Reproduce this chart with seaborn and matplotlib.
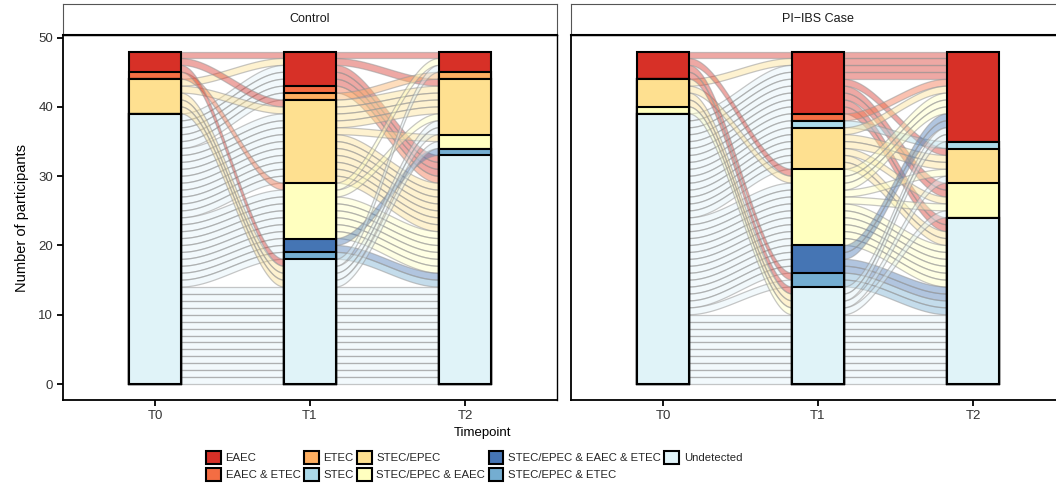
import matplotlib
matplotlib.use("Agg")
import matplotlib.pyplot as plt
from matplotlib import font_manager
from matplotlib.patches import Patch
from matplotlib.colors import to_rgba
import numpy as np
import pandas as pd
import seaborn as sns

# Pathogen categories (stacking order: first level on top) and their fills
STRATA = ["EAEC", "EAEC & ETEC", "ETEC", "STEC", "STEC/EPEC",
          "STEC/EPEC & EAEC", "STEC/EPEC & EAEC & ETEC", "STEC/EPEC & ETEC",
          "Undetected"]
PALETTE = ["#D73027", "#F46D43", "#FDAE61", "#ABD9E9", "#FEE090",
           "#FFFFBF", "#4575B4", "#74ADD1", "#E0F3F8"]
TIMEPOINTS = ["T0", "T1", "T2"]
GROUPS = ["Control", "PI\u2212IBS Case"]

# Short codes used in the participant pathways below
CODES = {"E": "EAEC", "EE": "EAEC & ETEC", "T": "ETEC", "S": "STEC",
         "P": "STEC/EPEC", "PE": "STEC/EPEC & EAEC",
         "PEE": "STEC/EPEC & EAEC & ETEC", "PT": "STEC/EPEC & ETEC",
         "U": "Undetected"}

# Pathways T0>T1>T2 and number of participants following each
control_paths = ["E>E>E", "P>E>P", "U>E>U", "U>EE>U", "U>T>T", "E>P>U",
                 "P>P>P", "U>P>P", "U>P>PE", "U>P>U", "EE>PE>U", "U>PE>E",
                 "U>PE>P", "U>PE>U", "U>PEE>PT", "U>PEE>U", "U>PT>U",
                 "U>U>U", "U>U>E", "U>U>P", "E>U>U", "P>U>U", "P>U>P",
                 "P>U>PE"]
control_counts = [1, 1, 3, 1, 1, 1, 1, 3, 1, 6, 1, 1, 1, 5, 1, 1, 1,
                  12, 1, 1, 1, 1, 1, 1]

case_paths = ["E>E>E", "P>E>E", "U>E>E", "U>E>P", "U>E>PE", "U>E>U",
              "U>EE>E", "U>S>S", "U>P>E", "U>P>P", "U>P>PE", "U>P>U",
              "E>PE>U", "P>PE>P", "U>PE>E", "U>PE>PE", "U>PE>U",
              "U>PEE>E", "U>PEE>U", "E>PT>U", "U>PT>U", "U>U>U", "U>U>E",
              "U>U>P", "E>U>U", "P>U>U", "P>U>E", "PE>U>PE"]
case_counts = [1, 1, 2, 1, 2, 2, 1, 1, 1, 2, 1, 2, 1, 1, 3, 1, 5, 2, 2, 1, 1,
               8, 1, 1, 1, 1, 1, 1]

GROUP_DATA = {GROUPS[0]: (control_paths, control_counts),
              GROUPS[1]: (case_paths, case_counts)}

W_PX, H_PX = 1056, 486
BAR_W = 1 / 3
RANK = {s: i for i, s in enumerate(STRATA)}
COLOR = dict(zip(STRATA, PALETTE))

sns.set_theme(style="white")
plt.rcParams["font.family"] = ["Liberation Sans", "DejaVu Sans"]

# condensed face for the legend and x title when it is available
_installed = {f.name for f in font_manager.fontManager.ttflist}
if "Liberation Sans Narrow" in _installed:
    NARROW = ["Liberation Sans Narrow", "DejaVu Sans"]
    NARROW_SIZE = 9.3
else:
    NARROW = ["Liberation Sans", "DejaVu Sans"]
    NARROW_SIZE = 8.2


def expand(paths, counts):
    states = []
    for p, c in zip(paths, counts):
        states += [[CODES[k] for k in p.split(">")]] * c
    return states


def frac(x0, y0, x1, y1):
    return [x0 / W_PX, 1 - y1 / H_PX, (x1 - x0) / W_PX, (y1 - y0) / H_PX]


def draw_flows(ax, states):
    n = len(states)
    t = np.linspace(0, 1, 80)
    s = t * t * (3 - 2 * t)
    for a in range(len(TIMEPOINTS) - 1):
        b = a + 1
        src = [st[a] for st in states]
        dst = [st[b] for st in states]
        out_order = sorted(range(n), key=lambda i: (RANK[src[i]], RANK[dst[i]], i))
        in_order = sorted(range(n), key=lambda i: (RANK[dst[i]], RANK[src[i]], i))
        y0 = np.empty(n)
        y1 = np.empty(n)
        for k, i in enumerate(out_order):
            y0[i] = n - 1 - k
        for k, i in enumerate(in_order):
            y1[i] = n - 1 - k
        xa, xb = a + BAR_W / 2, b - BAR_W / 2
        x = xa + (xb - xa) * t
        for i in range(n):
            low = y0[i] + (y1[i] - y0[i]) * s
            xs = np.concatenate([x, x[::-1]])
            ys = np.concatenate([low + 1, low[::-1]])
            ax.fill(xs, ys, facecolor=to_rgba(COLOR[src[i]], 0.42),
                    edgecolor=(0.6, 0.6, 0.6, 0.55), linewidth=0.9, zorder=1)


def draw_strata(ax, states):
    rows = []
    for ti, tp in enumerate(TIMEPOINTS):
        col = [st[ti] for st in states]
        counts = [col.count(s) for s in STRATA]
        for k, s in enumerate(STRATA):
            rows.append({"timepoint": tp, "stratum": s,
                         "top": sum(counts[k:])})
    df = pd.DataFrame(rows)
    # taller cumulative bars first, each lower stratum painted over them
    for s in STRATA:
        sub = df[df["stratum"] == s]
        sns.barplot(data=sub, x="timepoint", y="top", order=TIMEPOINTS,
                    color=COLOR[s], saturation=1, width=BAR_W,
                    edgecolor="black", linewidth=1.5, errorbar=None,
                    ax=ax, zorder=3)


fig = plt.figure(figsize=(W_PX / 100, H_PX / 100), dpi=100)

panels = [(63, 557), (571, 1065)]
for gi, (grp, (x0, x1)) in enumerate(zip(GROUPS, panels)):
    ax = fig.add_axes(frac(x0, 35, x1, 400))
    states = expand(*GROUP_DATA[grp])
    draw_flows(ax, states)
    draw_strata(ax, states)

    ax.set_xlim(-0.594, 2.594)
    ax.set_ylim(-2.31, 50.39)
    ax.set_xlabel("")
    ax.set_ylabel("")
    ax.set_xticks(range(len(TIMEPOINTS)))
    ax.set_xticklabels(TIMEPOINTS, fontsize=9.5, color="#333333")
    ax.tick_params(axis="x", length=4, width=1.3, color="black", pad=3,
                   bottom=True)
    if gi == 0:
        ax.set_yticks([0, 10, 20, 30, 40, 50])
        ax.set_yticklabels(["0", "10", "20", "30", "40", "50"],
                           fontsize=9.5, color="#333333")
        ax.tick_params(axis="y", length=4, width=1.3, color="black", pad=3,
                       left=True)
    else:
        ax.set_yticks([])
    for side, sp in ax.spines.items():
        sp.set_visible(True)
        sp.set_color("black")
        sp.set_linewidth(1.3 if side in ("left", "bottom") else 1.0)
    ax.set_facecolor("white")

    strip = fig.add_axes(frac(x0, 4, x1, 35))
    strip.set_xticks([])
    strip.set_yticks([])
    strip.set_facecolor("white")
    for side, sp in strip.spines.items():
        sp.set_color("#555555")
        sp.set_linewidth(0.8)
    strip.spines["bottom"].set_color("black")
    strip.spines["bottom"].set_linewidth(1.5)
    strip.text(0.5, 0.5, grp, transform=strip.transAxes, ha="center",
               va="center", fontsize=9, color="#1a1a1a")

fig.text(22 / W_PX, 1 - 218 / H_PX, "Number of participants", rotation=90,
         ha="center", va="center", fontsize=10.5, color="black")
fig.text(483 / W_PX, 1 - 433 / H_PX, "Timepoint", ha="center", va="center",
         fontsize=NARROW_SIZE + 1.3, family=NARROW, color="black")

handles = [Patch(facecolor=c, edgecolor="black", linewidth=1.5)
           for c in PALETTE]
fig.legend(handles, STRATA, loc="center", bbox_to_anchor=(0.449, 0.041),
           ncol=5, frameon=False,
           prop={"family": NARROW, "size": NARROW_SIZE},
           handlelength=1.3, handleheight=1.3, handletextpad=0.4,
           columnspacing=0.3, labelspacing=0.42, borderpad=0,
           borderaxespad=0)

fig.savefig("out.png", dpi=100)
